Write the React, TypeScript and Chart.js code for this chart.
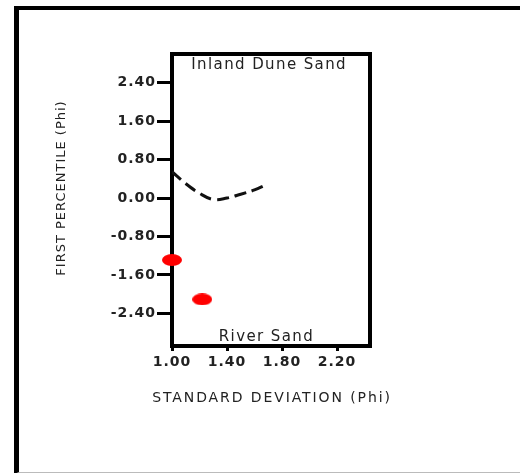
import React, { useEffect, useRef } from "react";
import { Chart, registerables } from "chart.js";

Chart.register(...registerables);

// ---- data ----
const curveX = [1.0, 1.1, 1.2, 1.3, 1.4, 1.5, 1.6, 1.68];
const curveY = [0.55, 0.3, 0.1, -0.03, 0.0, 0.08, 0.17, 0.27];
const riverX = [1.0, 1.22];
const riverY = [-1.29, -2.11];
const xTicks = [1.0, 1.4, 1.8, 2.2];
const yTicks = [2.4, 1.6, 0.8, 0, -0.8, -1.6, -2.4];
const xTitle = "STANDARD DEVIATION (Phi)";
const yTitle = "FIRST PERCENTILE (Phi)";
const noteTexts = ["Inland Dune Sand", "River Sand"];
const noteX = [1.14, 1.34];
const noteY = [2.76, -2.9];

const FAMILY = "'DejaVu Sans', sans-serif";

function makeEllipse(): HTMLCanvasElement {
  const c = document.createElement("canvas");
  c.width = 20;
  c.height = 12;
  const g = c.getContext("2d")!;
  g.fillStyle = "#ff0000";
  g.beginPath();
  g.ellipse(10, 6, 10, 6, 0, 0, Math.PI * 2);
  g.fill();
  return c;
}

const framePlugin = {
  id: "framePlugin",
  beforeDraw(chart: any) {
    chart.ctx.letterSpacing = "1px";
  },
  beforeDatasetsDraw(chart: any) {
    const { ctx, chartArea: a } = chart;
    ctx.save();
    ctx.strokeStyle = "#000";
    ctx.lineWidth = 4;
    ctx.strokeRect(a.left, a.top, a.right - a.left, a.bottom - a.top);
    ctx.restore();
  },
  afterDraw(chart: any) {
    const { ctx, scales, chartArea: a } = chart;
    ctx.save();
    ctx.fillStyle = "#222";
    ctx.textBaseline = "middle";

    // annotations inside the plot
    ctx.letterSpacing = "1.4px";
    ctx.font = `15px ${FAMILY}`;
    ctx.textAlign = "left";
    noteTexts.forEach((t, i) => {
      ctx.fillText(t, scales.x.getPixelForValue(noteX[i]), scales.y.getPixelForValue(noteY[i]));
    });

    // x axis title
    ctx.letterSpacing = "1.9px";
    ctx.font = `14px ${FAMILY}`;
    ctx.textAlign = "center";
    ctx.fillText(xTitle, (a.left + a.right) / 2 + 1, a.bottom + 52);

    // y axis title
    ctx.letterSpacing = "1px";
    ctx.font = `13px ${FAMILY}`;
    ctx.translate(a.left - 110, (a.top + a.bottom) / 2 - 12);
    ctx.rotate(-Math.PI / 2);
    ctx.textAlign = "center";
    ctx.fillText(yTitle, 0, 0);
    ctx.restore();
  },
};

export default function App() {
  const ref = useRef<HTMLCanvasElement | null>(null);
  useEffect(() => {
    const tickFont = { family: FAMILY, size: 14, weight: "bold" as const };
    const chart = new Chart(ref.current!, {
      type: "scatter",
      data: {
        datasets: [
          {
            type: "line",
            data: curveX.map((x, i) => ({ x, y: curveY[i] })),
            borderColor: "#111",
            borderWidth: 3,
            borderDash: [12, 6],
            pointRadius: 0,
            tension: 0.4,
            fill: false,
          } as any,
          {
            data: riverX.map((x, i) => ({ x, y: riverY[i] })),
            pointStyle: makeEllipse(),
            pointRadius: 10,
            clip: false,
          } as any,
        ],
      },
      options: {
        animation: false,
        responsive: false,
        layout: { padding: { left: 50, top: 54, right: 150, bottom: 67 } },
        plugins: { legend: { display: false }, tooltip: { enabled: false } },
        scales: {
          x: {
            type: "linear",
            min: 1.0,
            max: 2.44,
            afterBuildTicks: (s: any) => {
              s.ticks = xTicks.map((v) => ({ value: v }));
            },
            afterFit: (s: any) => {
              s.height = 60;
            },
            ticks: {
              font: tickFont,
              color: "#222",
              padding: 3,
              maxRotation: 0,
              autoSkip: false,
              callback: (v: any) => Number(v).toFixed(2),
            },
            grid: { drawOnChartArea: false, drawTicks: true, tickLength: 5, tickWidth: 3, tickColor: "#000" },
            border: { display: false },
            title: { display: false, text: xTitle },
          },
          y: {
            type: "linear",
            min: -3.08,
            max: 3.0,
            afterBuildTicks: (s: any) => {
              s.ticks = yTicks.map((v) => ({ value: v }));
            },
            afterFit: (s: any) => {
              s.width = 122;
            },
            ticks: {
              font: tickFont,
              color: "#222",
              padding: 1,
              autoSkip: false,
              callback: (v: any) => (Math.abs(Number(v)) < 1e-9 ? "0.00" : Number(v).toFixed(2)),
            },
            grid: { drawOnChartArea: false, drawTicks: true, tickLength: 15, tickWidth: 3, tickColor: "#000" },
            border: { display: false },
            title: { display: false, text: yTitle },
          },
        },
      },
      plugins: [framePlugin],
    });
    return () => chart.destroy();
  }, []);

  return (
    <div style={{ position: "absolute", left: 0, top: 0, width: 520, height: 473, background: "#fff" }}>
      <div
        style={{
          position: "absolute",
          left: 14,
          top: 6,
          width: 506,
          height: 462,
          borderLeft: "5px solid #000",
          borderTop: "4px solid #000",
          borderBottom: "2px solid #bbb",
        }}
      />
      <canvas ref={ref} width={520} height={473} style={{ position: "absolute", left: 0, top: 0 }} />
    </div>
  );
}
